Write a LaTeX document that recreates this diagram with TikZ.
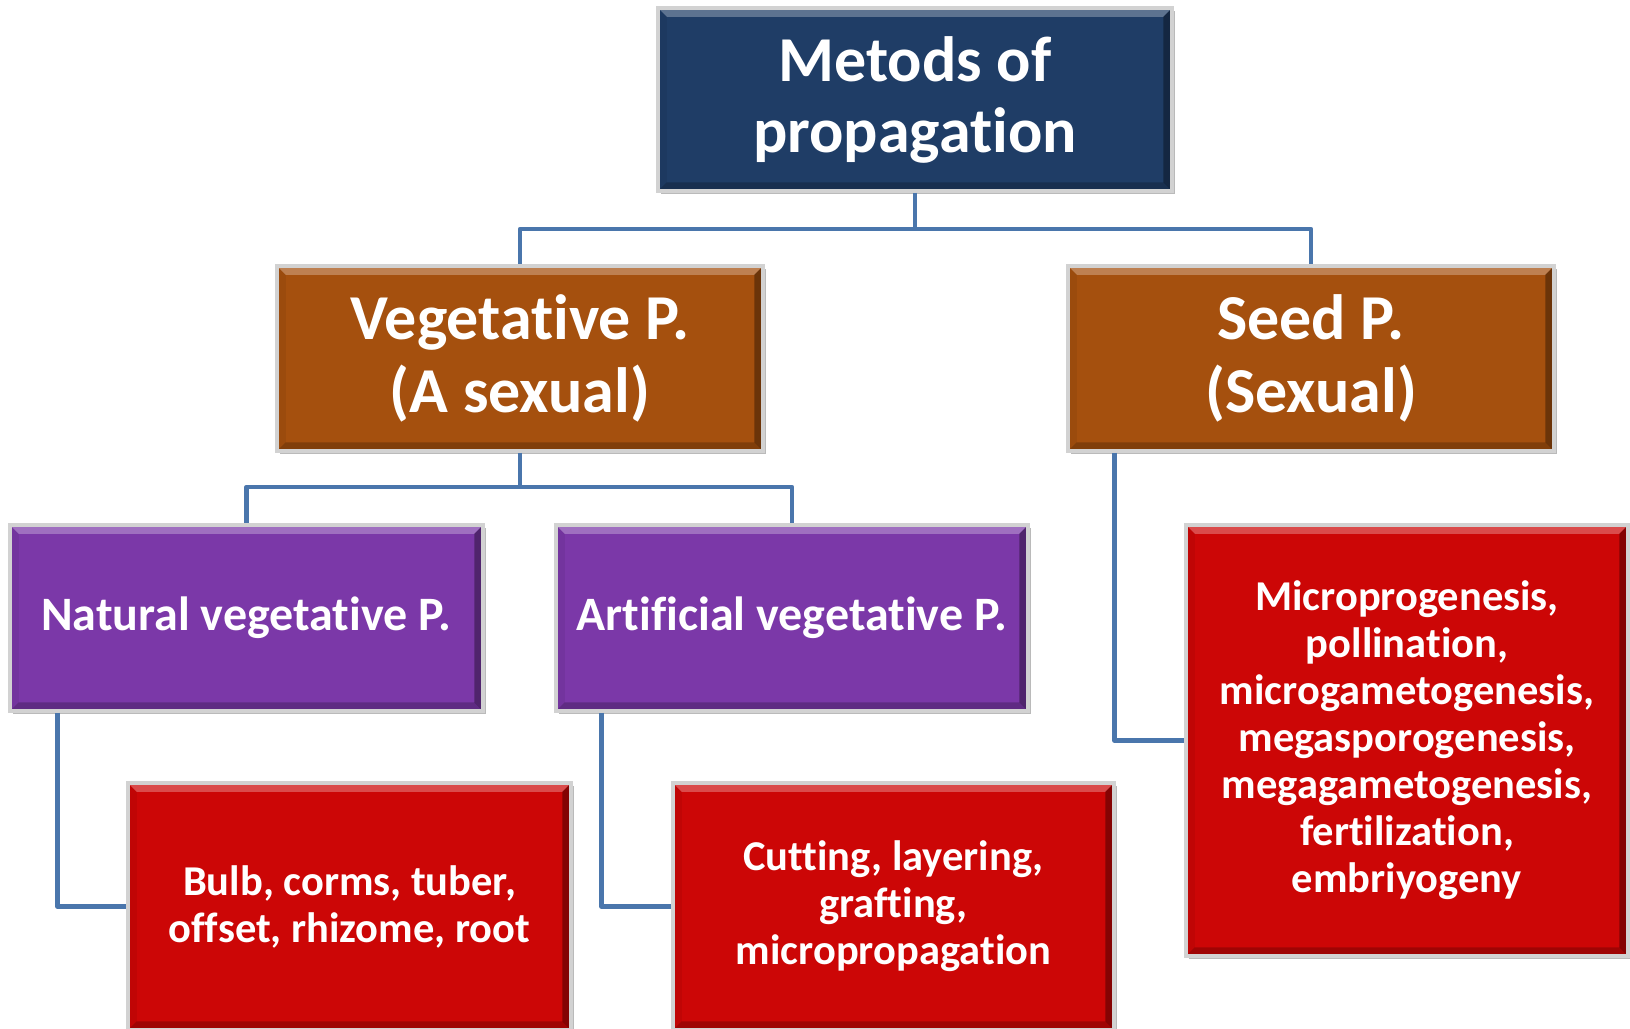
\documentclass[tikz,border=0pt]{standalone}
\usepackage{fontspec}
\setmainfont{Carlito}[Ligatures=NoCommon]
\usetikzlibrary{calc,shadows}
\definecolor{cblue}{RGB}{31,61,102}
\definecolor{cbrown}{RGB}{165,80,14}
\definecolor{cpurple}{RGB}{123,56,168}
\definecolor{cred}{RGB}{204,6,6}
\definecolor{cconn}{RGB}{74,118,172}
\tikzset{
  box/.style={rectangle, draw=gray!35, line width=3.5pt, fill=#1, text=white,
    font=\bfseries, align=center, inner sep=0pt,
    drop shadow={shadow xshift=2.5pt, shadow yshift=-2.5pt, opacity=.45, fill=black!60},
    path picture={
      \coordinate (NW) at ([shift={(1.75pt,-1.75pt)}]path picture bounding box.north west);
      \coordinate (NE) at ([shift={(-1.75pt,-1.75pt)}]path picture bounding box.north east);
      \coordinate (SW) at ([shift={(1.75pt,1.75pt)}]path picture bounding box.south west);
      \coordinate (SE) at ([shift={(-1.75pt,1.75pt)}]path picture bounding box.south east);
      \fill[white,opacity=.28] (NW) -- (NE) -- ($(NE)+(-7pt,-7pt)$) -- ($(NW)+(7pt,-7pt)$) -- cycle;
      \fill[black,opacity=.35] (NE) -- (SE) -- ($(SE)+(-7pt,7pt)$) -- ($(NE)+(-7pt,-7pt)$) -- cycle;
      \fill[black,opacity=.22] (SE) -- (SW) -- ($(SW)+(7pt,7pt)$) -- ($(SE)+(-7pt,7pt)$) -- cycle;
      \fill[black,opacity=.06] (SW) -- (NW) -- ($(NW)+(7pt,-7pt)$) -- ($(SW)+(7pt,7pt)$) -- cycle;
    }},
  conn/.style={draw=cconn, line width=4.5pt, line join=round},
  fbig/.style={font=\bfseries\fontsize{64}{71}\selectfont},
  fmid/.style={font=\bfseries\fontsize{64}{73}\selectfont},
  fsub/.style={font=\bfseries\fontsize{48}{56}\selectfont},
  fsmall/.style={font=\bfseries\fontsize{42.5}{47}\selectfont},
}
\begin{document}
\begin{tikzpicture}[x=1pt,y=-1pt]
\useasboundingbox[fill=white] (0,0) rectangle (1630,1028);
\clip (0,0) rectangle (1630,1028);

\node[box=cblue, fbig, minimum width=514pt, minimum height=183pt] (top) at (915,99.5) {Metods of\\propagation};
\node[box=cbrown, fmid, minimum width=486pt, minimum height=185pt] (veg) at (520,358.5) {Vegetative P.\\(A sexual)};
\node[box=cbrown, fmid, minimum width=486pt, minimum height=185pt] (seed) at (1311,358.5) {Seed P.\\(Sexual)};
\node[box=cpurple, fsub, minimum width=473pt, minimum height=186pt] (nat) at (246.5,618) {Natural vegetative P.};
\node[box=cpurple, fsub, minimum width=472pt, minimum height=186pt] (art) at (792,618) {Artificial vegetative P.};
\node[box=cred, fsmall, minimum width=443pt, minimum height=247pt] (bulb) at (349.5,906.5) {Bulb, corms, tuber,\\offset, rhizome, root};
\node[box=cred, fsmall, minimum width=441pt, minimum height=247pt] (cut) at (893.5,906.5) {Cutting, layering,\\grafting,\\micropropagation};
\node[box=cred, fsmall, minimum width=442pt, minimum height=431pt] (micro) at (1407,740.5) {Microprogenesis,\\pollination,\\microgametogenesis,\\megasporogenesis,\\megagametogenesis,\\fertilization,\\embriyogeny};

\coordinate (j1) at (top.south |- 0,229);
\draw[conn] (top.south) -- (j1) -| (veg.north);
\draw[conn] (j1) -| (seed.north);
\coordinate (j2) at (veg.south |- 0,487);
\draw[conn] (veg.south) -- (j2) -| (nat.north);
\draw[conn] (j2) -| (art.north);
\draw[conn] ([xshift=49pt]nat.south west) |- (bulb.west);
\draw[conn] ([xshift=47pt]art.south west) |- (cut.west);
\draw[conn] ([xshift=48pt]seed.south west) |- (micro.west);
\end{tikzpicture}
\end{document}
